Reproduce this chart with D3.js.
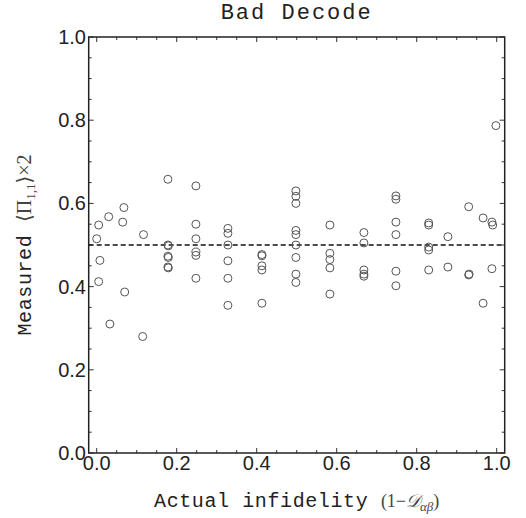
<!DOCTYPE html>
<html>
<head>
<meta charset="utf-8">
<script src="https://cdn.jsdelivr.net/npm/d3@7"></script>
<style>
  html, body { margin: 0; padding: 0; background: #fff; }
  svg { display: block; }
  .mono { font-family: "Liberation Mono", "DejaVu Sans Mono", monospace; fill: #222; }
  .math { font-family: "Liberation Serif", "DejaVu Serif", serif; fill: #444; }
  .tick-lbl { font-family: "Liberation Sans", Arial, sans-serif; font-size: 20px; fill: #222; }
</style>
</head>
<body>
<div id="chart"></div>
<script>
/* "Bad Decode" scatter: measured <Pi_1,1>x2 against actual infidelity,
   with the dashed 0.5 reference line. Framed plot, inward ticks on all sides. */
(function () {
  "use strict";

  // ---- data ----
  var infidelity = [
    0.0, 0.005, 0.008, 0.005,
    0.03, 0.033,
    0.068, 0.065, 0.07,
    0.117, 0.115,
    0.178, 0.178, 0.179, 0.178, 0.179, 0.178, 0.179,
    0.248, 0.248, 0.248, 0.248, 0.248, 0.248,
    0.328, 0.328, 0.328, 0.328, 0.328, 0.328,
    0.413, 0.413, 0.413, 0.413, 0.413,
    0.498, 0.498, 0.498, 0.498, 0.498, 0.498, 0.498, 0.498, 0.498,
    0.583, 0.583, 0.583, 0.583, 0.583,
    0.668, 0.668, 0.668, 0.668, 0.668,
    0.748, 0.748, 0.748, 0.748, 0.748, 0.748,
    0.83, 0.83, 0.83, 0.83, 0.83,
    0.878, 0.878,
    0.93, 0.93, 0.931,
    0.966, 0.966,
    0.988, 0.99, 0.988,
    0.998
  ];
  var measured = [
    0.515, 0.548, 0.463, 0.412,
    0.568, 0.31,
    0.59, 0.555, 0.387,
    0.525, 0.28,
    0.658, 0.50, 0.498, 0.473, 0.47, 0.447, 0.445,
    0.642, 0.55, 0.515, 0.483, 0.475, 0.42,
    0.54, 0.528, 0.50, 0.462, 0.42, 0.355,
    0.477, 0.474, 0.45, 0.44, 0.36,
    0.63, 0.617, 0.60, 0.535, 0.525, 0.50, 0.47, 0.43, 0.41,
    0.548, 0.48, 0.465, 0.445, 0.382,
    0.53, 0.505, 0.44, 0.43, 0.425,
    0.618, 0.61, 0.555, 0.525, 0.437, 0.402,
    0.553, 0.548, 0.495, 0.488, 0.44,
    0.52, 0.447,
    0.592, 0.428, 0.43,
    0.565, 0.36,
    0.555, 0.548, 0.443,
    0.787
  ];
  var majorTicks = [0, 0.2, 0.4, 0.6, 0.8, 1.0];
  var minorTicks = d3.range(0, 21).map(function (i) { return i / 20; });
  var refLevel = 0.5;

  var W = 526, H = 518;
  var x = d3.scaleLinear().domain([-0.02, 1.02]).range([88.7, 504.7]);
  var y = d3.scaleLinear().domain([0, 1]).range([453, 37]);
  var x0 = x.range()[0], x1 = x.range()[1], yTop = y.range()[1], yBot = y.range()[0];

  var svg = d3.select("#chart").append("svg").attr("width", W).attr("height", H);

  // ---- inward ticks on all four sides ----
  var tk = svg.append("g").attr("stroke", "#333").attr("stroke-width", 1);
  minorTicks.forEach(function (v, i) {
    var len = (i % 4 === 0) ? 5 : 3;
    var px = x(v), py = y(v);
    tk.append("line").attr("x1", px).attr("x2", px).attr("y1", yBot).attr("y2", yBot - len);
    tk.append("line").attr("x1", px).attr("x2", px).attr("y1", yTop).attr("y2", yTop + len);
    tk.append("line").attr("x1", x0).attr("x2", x0 + len).attr("y1", py).attr("y2", py);
    tk.append("line").attr("x1", x1).attr("x2", x1 - len).attr("y1", py).attr("y2", py);
  });

  // tick labels
  majorTicks.forEach(function (v) {
    svg.append("text").attr("class", "tick-lbl").attr("x", x(v)).attr("y", 470)
      .attr("text-anchor", "middle").text(v.toFixed(1));
    svg.append("text").attr("class", "tick-lbl").attr("x", 86).attr("y", y(v) + 7)
      .attr("text-anchor", "end").text(v.toFixed(1));
  });

  // dashed reference line
  svg.append("line").attr("x1", x0).attr("x2", x1).attr("y1", y(refLevel)).attr("y2", y(refLevel))
    .attr("stroke", "#111").attr("stroke-width", 1.3).attr("stroke-dasharray", "5,3");

  // points
  svg.append("g").selectAll("circle").data(infidelity).join("circle")
    .attr("cx", function (d) { return x(d); })
    .attr("cy", function (d, i) { return y(measured[i]); })
    .attr("r", 4)
    .attr("fill", "none").attr("stroke", "#555").attr("stroke-width", 1);

  // frame
  svg.append("rect").attr("x", x0).attr("y", yTop).attr("width", x1 - x0).attr("height", yBot - yTop)
    .attr("fill", "none").attr("stroke", "#222").attr("stroke-width", 1.5);

  // ---- titles ----
  var cx = (x0 + x1) / 2, cy = (yTop + yBot) / 2;
  svg.append("text").attr("class", "mono").attr("x", cx).attr("y", 19)
    .attr("text-anchor", "middle").style("font-size", "22px").style("letter-spacing", "2px")
    .text("Bad Decode");

  var xt = svg.append("text").attr("x", cx).attr("y", 507).attr("text-anchor", "middle");
  xt.append("tspan").attr("class", "mono").style("font-size", "20px").style("letter-spacing", "0.6px")
    .text("Actual infidelity ");
  xt.append("tspan").attr("class", "math").style("font-size", "18px").text("(1\u2212");
  xt.append("tspan").attr("class", "math").style("font-size", "18px").style("font-style", "italic").text("\u{1D49F}");
  xt.append("tspan").attr("class", "math").style("font-size", "13px").style("font-style", "italic")
    .attr("dy", 4).text("\u03b1\u03b2");
  xt.append("tspan").attr("class", "math").style("font-size", "18px").attr("dy", -4).text(")");

  var yt = svg.append("text").attr("transform", "translate(31," + cy + ") rotate(-90)")
    .attr("text-anchor", "middle");
  yt.append("tspan").attr("class", "mono").style("font-size", "20px").style("letter-spacing", "0.6px")
    .text("Measured ");
  yt.append("tspan").attr("class", "math").style("font-size", "20px").text("\u27e8\u03a0");
  yt.append("tspan").attr("class", "math").style("font-size", "13px").attr("dy", 4).text("1,1");
  yt.append("tspan").attr("class", "math").style("font-size", "20px").attr("dy", -4).text("\u27e9\u00d72");
})();
</script>
</body>
</html>
